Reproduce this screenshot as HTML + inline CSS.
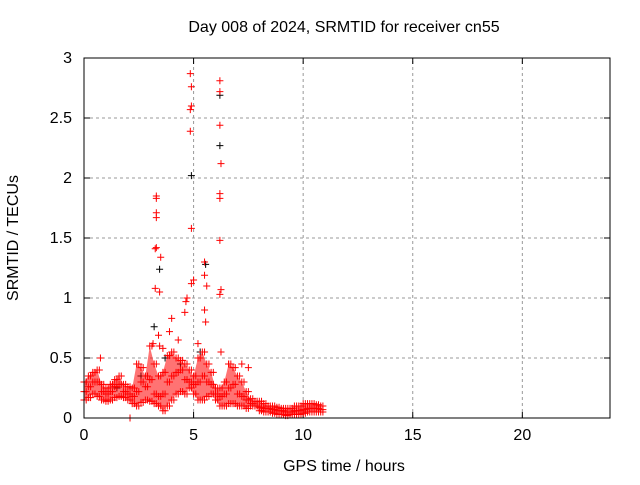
<!DOCTYPE html>
<html><head><meta charset="utf-8"><style>
body{margin:0;background:#fff;}
svg text{font-family:"Liberation Sans",sans-serif;font-size:16px;fill:#000;}
</style></head><body>
<svg id="c" width="640" height="480">
<text x="344" y="32" text-anchor="middle">Day 008 of 2024, SRMTID for receiver cn55</text>
<text x="344" y="471" text-anchor="middle">GPS time / hours</text>
<text transform="translate(18,238) rotate(-90)" text-anchor="middle">SRMTID / TECUs</text>
<g id="grid"></g>
<g id="ticks"></g>
<g id="marks"></g>
<rect x="84" y="58" width="526" height="360" fill="none" stroke="#000" stroke-width="1"/>
</svg>
<script>
const xTicks=[0,5,10,15,20];
const yTicks=[0,0.5,1,1.5,2,2.5,3];
const yTickLabels=["0","0.5","1","1.5","2","2.5","3"];
// baseline band, step 0.2 h from 0 to 10.8
const bandStart=0, bandStep=0.2;
const bandLo=[0.15,0.17,0.2,0.18,0.15,0.14,0.15,0.17,0.18,0.17,0.15,0.12,0.1,0.13,0.15,0.14,0.12,0.1,0.06,0.1,0.15,0.2,0.22,0.2,0.25,0.2,0.15,0.15,0.18,0.2,0.15,0.1,0.1,0.12,0.12,0.1,0.1,0.08,0.1,0.1,0.06,0.05,0.05,0.04,0.03,0.03,0.02,0.03,0.03,0.03,0.04,0.05,0.05,0.05,0.05];
const bandMid=[0.22,0.26,0.3,0.3,0.22,0.2,0.22,0.26,0.28,0.22,0.2,0.18,0.22,0.3,0.26,0.32,0.2,0.18,0.2,0.3,0.35,0.38,0.4,0.32,0.3,0.28,0.3,0.35,0.3,0.28,0.2,0.18,0.2,0.25,0.28,0.2,0.18,0.15,0.12,0.1,0.09,0.08,0.08,0.07,0.06,0.06,0.05,0.05,0.06,0.06,0.07,0.08,0.08,0.08,0.07];
const bandHi=[0.3,0.35,0.38,0.4,0.28,0.25,0.28,0.32,0.35,0.28,0.26,0.25,0.45,0.42,0.35,0.6,0.45,0.35,0.38,0.52,0.55,0.5,0.48,0.45,0.4,0.35,0.5,0.55,0.45,0.38,0.25,0.25,0.3,0.45,0.42,0.35,0.3,0.22,0.16,0.14,0.14,0.12,0.1,0.1,0.09,0.08,0.08,0.08,0.1,0.1,0.12,0.12,0.12,0.11,0.1];
const redT=[4.85,4.9,4.9,4.85,4.85,4.9,6.2,6.2,6.2,6.25,6.2,6.2,6.2,6.25,6.2,3.3,3.3,3.3,3.3,3.3,3.25,3.5,3.25,3.45,5.5,5.5,5.6,5.0,4.9,5.5,5.55,3.4,3.45,4.0,3.9,4.6,4.65,4.7,6.25,0.75,2.1,3.15,3.6,4.3,5.2,6.6,7.2,7.5];
const redV=[2.87,2.76,2.6,2.57,2.39,1.58,2.81,2.72,2.44,2.12,1.87,1.83,1.48,1.07,1.03,1.85,1.83,1.71,1.67,1.42,1.41,1.34,1.08,1.05,1.3,1.19,1.1,1.15,1.12,0.9,0.8,0.69,0.6,0.83,0.72,0.88,0.97,1.0,0.55,0.5,0.0,0.62,0.58,0.65,0.62,0.45,0.45,0.42];
const blackT=[4.9,6.2,6.2,3.45,5.55,3.2,0.1,1.5,3.7,4.4,5.3,2.6];
const blackV=[2.02,2.69,2.27,1.24,1.28,0.76,0.3,0.25,0.5,0.45,0.55,0.35];

const X0=84,X1=610,Y0=418,Y1=58;
const sx=t=>X0+t*(X1-X0)/24;
const sy=v=>Y0-v*(Y0-Y1)/3;
const NS="http://www.w3.org/2000/svg";
function mk(tag,attrs,parent){const e=document.createElementNS(NS,tag);for(const k in attrs)e.setAttribute(k,attrs[k]);parent.appendChild(e);return e;}
const grid=document.getElementById('grid'),ticks=document.getElementById('ticks'),marks=document.getElementById('marks');
xTicks.forEach(t=>{
  const x=sx(t);
  if(t>0){const l=mk('line',{x1:x,x2:x,y1:Y0,y2:Y1,stroke:'#999','stroke-dasharray':'3,3'},grid);
  
  }
  mk('line',{x1:x,x2:x,y1:Y0,y2:Y0-6,stroke:'#000'},ticks);
  mk('line',{x1:x,x2:x,y1:Y1,y2:Y1+6,stroke:'#000'},ticks);
  const tx=mk('text',{x:x,y:Y0+22,'text-anchor':'middle'},ticks);tx.textContent=t;
  
  
});
yTicks.forEach((v,i)=>{
  const y=sy(v);
  if(v>0&&v<3){const l=mk('line',{x1:X0,x2:X1,y1:y,y2:y,stroke:'#999','stroke-dasharray':'3,3'},grid);
  
  }
  mk('line',{x1:X0,x2:X0+6,y1:y,y2:y,stroke:'#000'},ticks);
  mk('line',{x1:X1,x2:X1-6,y1:y,y2:y,stroke:'#000'},ticks);
  const tx=mk('text',{x:X0-12,y:y+5,'text-anchor':'end'},ticks);tx.textContent=yTickLabels[i];
  
  
});
function cross(t,v,col){
  const x=sx(t),y=sy(v);
  const p=mk('path',{d:`M${x-3.5},${y}h7M${x},${y-3.5}v7`,stroke:col,'stroke-width':1},marks);
  
  
}
blackT.forEach((t,i)=>cross(t,blackV[i],'#000'));
let d='';
bandLo.forEach((v,i)=>{d+=(i?'L':'M')+sx(bandStart+i*bandStep)+','+sy(v);});
for(let i=bandHi.length-1;i>=0;i--)d+='L'+sx(bandStart+i*bandStep)+','+sy(bandHi[i]);
const band=mk('path',{d:d+'Z',fill:'#f00',opacity:0.55},marks);


[bandLo,bandMid,bandHi].forEach(arr=>arr.forEach((v,i)=>{cross(bandStart+i*bandStep,v,'#f00');cross(bandStart+i*bandStep+bandStep/2,v,'#f00');}));
redT.forEach((t,i)=>cross(t,redV[i],'#f00'));
</script>
</body></html>
